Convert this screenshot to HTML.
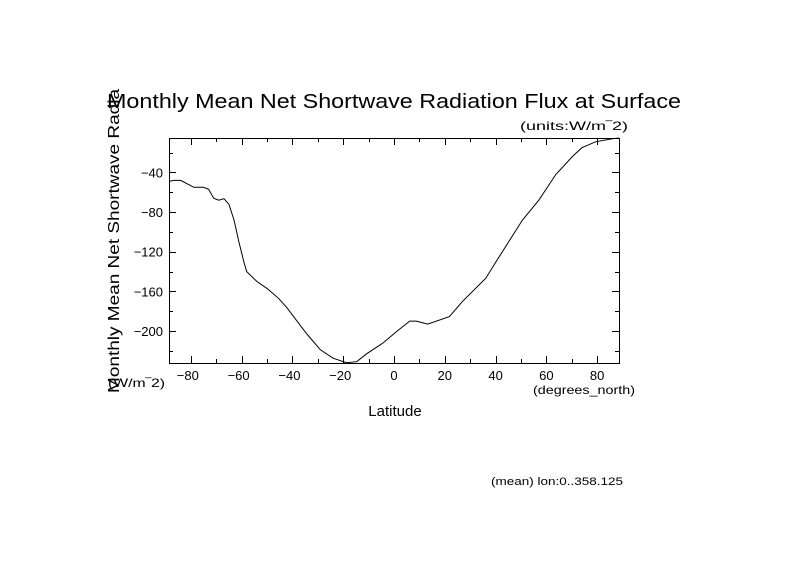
<!DOCTYPE html>
<html><head><meta charset="utf-8"><style>
html,body{margin:0;padding:0;background:#fff;}
svg text{font-family:"Liberation Sans",sans-serif;fill:#000;}
</style></head><body>
<svg id="chart" width="789" height="558" viewBox="0 0 789 558" xmlns="http://www.w3.org/2000/svg">
<rect width="789" height="558" fill="#fff"/>
<text x="107" y="108" font-size="20" textLength="574" lengthAdjust="spacingAndGlyphs">Monthly Mean Net Shortwave Radiation Flux at Surface</text>
<text x="520" y="130" font-size="12" textLength="108" lengthAdjust="spacingAndGlyphs">(units:W/m‾2)</text>
<text transform="translate(119,393) rotate(-90)" font-size="16" textLength="304" lengthAdjust="spacingAndGlyphs">Monthly Mean Net Shortwave Radia</text>
<text x="108" y="387" font-size="12" textLength="57" lengthAdjust="spacingAndGlyphs">(W/m‾2)</text>
<text x="395" y="416" font-size="15" text-anchor="middle">Latitude</text>
<text x="533" y="394" font-size="12" textLength="102" lengthAdjust="spacingAndGlyphs">(degrees_north)</text>
<text x="491" y="485" font-size="11" textLength="132" lengthAdjust="spacingAndGlyphs">(mean) lon:0..358.125</text>
<g id="axes"></g>
<path id="line" fill="none" stroke="#000" stroke-width="1"/>
</svg>
<script>
const lats = [-88.6,-86.7,-84,-78.8,-75,-73,-71,-69,-67,-65,-63,-61,-59,-58,-54,-50,-45.5,-42,-37,-34,-29,-24,-18.7,-14.7,-10.8,-4.3,1,6.2,8.8,13.3,21.8,27,36.2,40.2,50.6,57,63.7,70.2,74,79.4,86,88.6];
const values = [-49,-48,-48,-55,-55,-57,-66,-68,-66.5,-72,-88,-111,-131.5,-140,-150,-157,-167,-177,-194,-204,-219,-227.5,-232,-231,-223,-212,-200.6,-190,-190,-193,-185.5,-170,-146.6,-130,-88,-68,-42,-24,-15,-9,-6,-5.2];
const xTicks = [-80,-60,-40,-20,0,20,40,60,80];
const yTicks = [-40,-80,-120,-160,-200];
const X0=169,X1=619,Y0=138,Y1=363;
const xMin=-88.6,xMax=88.6,yMin=-232.3,yMax=-5.2;
const sx=v=>X0+(v-xMin)/(xMax-xMin)*(X1-X0);
const sy=v=>Y1-(v-yMin)/(yMax-yMin)*(Y1-Y0);
const NS='http://www.w3.org/2000/svg';
const g=document.getElementById('axes');
function ln(x1,y1,x2,y2,name){const l=document.createElementNS(NS,'line');
l.setAttribute('x1',x1);l.setAttribute('y1',y1);l.setAttribute('x2',x2);l.setAttribute('y2',y2);
l.setAttribute('stroke','#000');l.setAttribute('stroke-width','1');


g.appendChild(l);}
const fr=document.createElementNS(NS,'rect');
fr.setAttribute('x',X0+0.5);fr.setAttribute('y',Y0+0.5);fr.setAttribute('width',X1-X0);fr.setAttribute('height',Y1-Y0);
fr.setAttribute('fill','none');fr.setAttribute('stroke','#000');


g.appendChild(fr);
for(let v=-80;v<=80;v+=10){const x=Math.round(sx(v))+0.5;const L=(v%20===0)?7:4;
ln(x,Y0,x,Y0+L,'x-tick');ln(x,Y1,x,Y1-L,'x-tick');}
for(let v=-220;v<=-20;v+=20){const y=Math.round(sy(v))+0.5;const L=(v%40===0)?7:4;
ln(X0,y,X0+L,y,'y-tick');ln(X1,y,X1-L,y,'y-tick');}
xTicks.forEach(v=>{const t=document.createElementNS(NS,'text');
t.setAttribute('x',sx(v)-(v<0?3:0));t.setAttribute('y',380);t.setAttribute('font-size','13');t.setAttribute('text-anchor','middle');
t.textContent=(v<0?'\u2212'+(-v):String(v));


g.appendChild(t);});
yTicks.forEach(v=>{const t=document.createElementNS(NS,'text');
t.setAttribute('x',163);t.setAttribute('y',sy(v)+5);t.setAttribute('font-size','13');t.setAttribute('text-anchor','end');
t.textContent='\u2212'+(-v);


g.appendChild(t);});
document.getElementById('line').setAttribute('d',lats.map((la,i)=>(i?'L':'M')+sx(la).toFixed(1)+','+sy(values[i]).toFixed(1)).join(''));
</script>
</body></html>
